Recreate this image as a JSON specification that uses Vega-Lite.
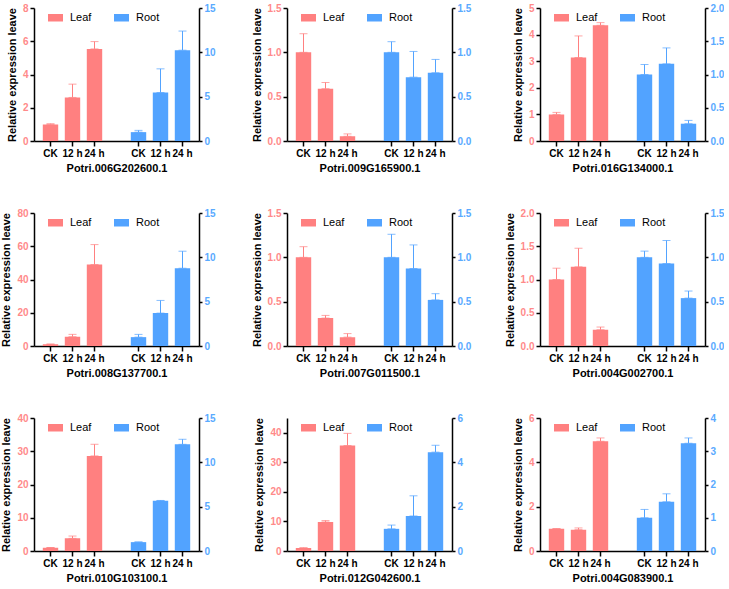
{
"$schema":"https://vega.github.io/schema/vega-lite/v6.json",
"padding":{"left":0,"top":3,"right":0,"bottom":0},
"data":{"values":[
{"gene":"Potri.006G202600.1","tissue":"Leaf","time":"CK","mean":1.0,"upper":1.04},
{"gene":"Potri.006G202600.1","tissue":"Leaf","time":"12","mean":2.62,"upper":3.42},
{"gene":"Potri.006G202600.1","tissue":"Leaf","time":"24","mean":5.54,"upper":5.98},
{"gene":"Potri.006G202600.1","tissue":"Root","time":"CK","mean":1.0,"upper":1.2},
{"gene":"Potri.006G202600.1","tissue":"Root","time":"12","mean":5.47,"upper":8.14},
{"gene":"Potri.006G202600.1","tissue":"Root","time":"24","mean":10.24,"upper":12.4},
{"gene":"Potri.009G165900.1","tissue":"Leaf","time":"CK","mean":1.0,"upper":1.21},
{"gene":"Potri.009G165900.1","tissue":"Leaf","time":"12","mean":0.59,"upper":0.66},
{"gene":"Potri.009G165900.1","tissue":"Leaf","time":"24","mean":0.053,"upper":0.08},
{"gene":"Potri.009G165900.1","tissue":"Root","time":"CK","mean":1.0,"upper":1.12},
{"gene":"Potri.009G165900.1","tissue":"Root","time":"12","mean":0.72,"upper":1.01},
{"gene":"Potri.009G165900.1","tissue":"Root","time":"24","mean":0.77,"upper":0.92},
{"gene":"Potri.016G134000.1","tissue":"Leaf","time":"CK","mean":1.0,"upper":1.075},
{"gene":"Potri.016G134000.1","tissue":"Leaf","time":"12","mean":3.14,"upper":3.95},
{"gene":"Potri.016G134000.1","tissue":"Leaf","time":"24","mean":4.35,"upper":4.45},
{"gene":"Potri.016G134000.1","tissue":"Root","time":"CK","mean":1.0,"upper":1.15},
{"gene":"Potri.016G134000.1","tissue":"Root","time":"12","mean":1.16,"upper":1.4},
{"gene":"Potri.016G134000.1","tissue":"Root","time":"24","mean":0.26,"upper":0.31},
{"gene":"Potri.008G137700.1","tissue":"Leaf","time":"CK","mean":1.0,"upper":1.2},
{"gene":"Potri.008G137700.1","tissue":"Leaf","time":"12","mean":5.6,"upper":7.0},
{"gene":"Potri.008G137700.1","tissue":"Leaf","time":"24","mean":49,"upper":61},
{"gene":"Potri.008G137700.1","tissue":"Root","time":"CK","mean":1.0,"upper":1.31},
{"gene":"Potri.008G137700.1","tissue":"Root","time":"12","mean":3.71,"upper":5.14},
{"gene":"Potri.008G137700.1","tissue":"Root","time":"24","mean":8.77,"upper":10.69},
{"gene":"Potri.007G011500.1","tissue":"Leaf","time":"CK","mean":1.0,"upper":1.12},
{"gene":"Potri.007G011500.1","tissue":"Leaf","time":"12","mean":0.315,"upper":0.345},
{"gene":"Potri.007G011500.1","tissue":"Leaf","time":"24","mean":0.1,"upper":0.14},
{"gene":"Potri.007G011500.1","tissue":"Root","time":"CK","mean":1.0,"upper":1.26},
{"gene":"Potri.007G011500.1","tissue":"Root","time":"12","mean":0.874,"upper":1.14},
{"gene":"Potri.007G011500.1","tissue":"Root","time":"24","mean":0.52,"upper":0.59},
{"gene":"Potri.004G002700.1","tissue":"Leaf","time":"CK","mean":1.0,"upper":1.17},
{"gene":"Potri.004G002700.1","tissue":"Leaf","time":"12","mean":1.19,"upper":1.47},
{"gene":"Potri.004G002700.1","tissue":"Leaf","time":"24","mean":0.245,"upper":0.285},
{"gene":"Potri.004G002700.1","tissue":"Root","time":"CK","mean":1.0,"upper":1.07},
{"gene":"Potri.004G002700.1","tissue":"Root","time":"12","mean":0.93,"upper":1.19},
{"gene":"Potri.004G002700.1","tissue":"Root","time":"24","mean":0.54,"upper":0.62},
{"gene":"Potri.010G103100.1","tissue":"Leaf","time":"CK","mean":1.0,"upper":1.05},
{"gene":"Potri.010G103100.1","tissue":"Leaf","time":"12","mean":3.8,"upper":4.5},
{"gene":"Potri.010G103100.1","tissue":"Leaf","time":"24","mean":28.6,"upper":32.1},
{"gene":"Potri.010G103100.1","tissue":"Root","time":"CK","mean":1.0,"upper":1.02},
{"gene":"Potri.010G103100.1","tissue":"Root","time":"12","mean":5.66,"upper":5.7},
{"gene":"Potri.010G103100.1","tissue":"Root","time":"24","mean":12.03,"upper":12.6},
{"gene":"Potri.012G042600.1","tissue":"Leaf","time":"CK","mean":1.0,"upper":1.1},
{"gene":"Potri.012G042600.1","tissue":"Leaf","time":"12","mean":9.83,"upper":10.3},
{"gene":"Potri.012G042600.1","tissue":"Leaf","time":"24","mean":35.7,"upper":39.8},
{"gene":"Potri.012G042600.1","tissue":"Root","time":"CK","mean":1.0,"upper":1.17},
{"gene":"Potri.012G042600.1","tissue":"Root","time":"12","mean":1.58,"upper":2.49},
{"gene":"Potri.012G042600.1","tissue":"Root","time":"24","mean":4.46,"upper":4.77},
{"gene":"Potri.004G083900.1","tissue":"Leaf","time":"CK","mean":1.0,"upper":1.01},
{"gene":"Potri.004G083900.1","tissue":"Leaf","time":"12","mean":0.96,"upper":1.04},
{"gene":"Potri.004G083900.1","tissue":"Leaf","time":"24","mean":4.95,"upper":5.1},
{"gene":"Potri.004G083900.1","tissue":"Root","time":"CK","mean":1.0,"upper":1.25},
{"gene":"Potri.004G083900.1","tissue":"Root","time":"12","mean":1.48,"upper":1.72},
{"gene":"Potri.004G083900.1","tissue":"Root","time":"24","mean":3.24,"upper":3.4}
]},
"transform":[{"calculate":"datum.tissue + ' ' + datum.time","as":"key"}],
"columns":3,
"spacing":{"row":72,"column":88},
"bounds":"flush",
"align":"all",
"resolve":{"scale":{"color":"independent"},"legend":{"color":"independent"}},
"concat":[
{"width":165,"height":133,"transform":[{"filter":"datum.gene === 'Potri.006G202600.1'"}],
 "encoding":{"x":{"field":"key","type":"nominal","scale":{"domain":["Leaf CK","Leaf 12","Leaf 24","gap","Root CK","Root 12","Root 24"],"paddingInner":0.3,"paddingOuter":0.4},"axis":{"title":"Potri.006G202600.1","labelExpr":"datum.value == 'gap' ? '' : (indexof(datum.value,'CK') >= 0 ? 'CK' : substring(datum.value,5) + ' h')","tickColor":{"condition":{"test":"datum.value === 'gap'","value":"transparent"},"value":"black"}}}},
 "layer":[
  {"transform":[{"filter":"datum.tissue === 'Leaf'"}],
   "encoding":{"y":{"field":"mean","type":"quantitative","title":"Relative expression leave","scale":{"domain":[0,8],"nice":false},"axis":{"orient":"left","values":[0,2,4,6,8],"format":"d","labelOverlap":false,"labelColor":"#FF8A8A"}}},
   "layer":[
   {"mark":{"type":"bar"},"encoding":{"color":{"field":"tissue","type":"nominal","scale":{"domain":["Leaf","Root"],"range":["#FF8080","#52A3FF"]},"legend":{"orient":"none","legendX":14,"legendY":2,"direction":"horizontal","title":null,"symbolType":"M-1,-0.5L1,-0.5L1,0.5L-1,0.5Z","symbolSize":225,"symbolStrokeWidth":0,"labelFontSize":11,"labelOffset":7,"columnPadding":22,"padding":0}}}},
   {"mark":{"type":"errorbar","color":"#FF8080","thickness":1,"ticks":{"size":8,"thickness":1,"color":"#FF8080"}},"encoding":{"y2":{"field":"upper"}}}
  ]},
  {"transform":[{"filter":"datum.tissue === 'Root'"}],
   "encoding":{"y":{"field":"mean","type":"quantitative","title":null,"scale":{"domain":[0,15],"nice":false},"axis":{"orient":"right","values":[0,5,10,15],"format":"d","labelOverlap":false,"labelColor":"#5AAAFF","tickSize":3}}},
   "layer":[
   {"mark":{"type":"bar"},"encoding":{"color":{"field":"tissue","type":"nominal","scale":{"domain":["Leaf","Root"],"range":["#FF8080","#52A3FF"]},"legend":{"orient":"none","legendX":14,"legendY":2,"direction":"horizontal","title":null,"symbolType":"M-1,-0.5L1,-0.5L1,0.5L-1,0.5Z","symbolSize":225,"symbolStrokeWidth":0,"labelFontSize":11,"labelOffset":7,"columnPadding":22,"padding":0}}}},
   {"mark":{"type":"errorbar","color":"#52A3FF","thickness":1,"ticks":{"size":8,"thickness":1,"color":"#52A3FF"}},"encoding":{"y2":{"field":"upper"}}}
  ]}
 ],
 "resolve":{"scale":{"y":"independent"}}},
{"width":165,"height":133,"transform":[{"filter":"datum.gene === 'Potri.009G165900.1'"}],
 "encoding":{"x":{"field":"key","type":"nominal","scale":{"domain":["Leaf CK","Leaf 12","Leaf 24","gap","Root CK","Root 12","Root 24"],"paddingInner":0.3,"paddingOuter":0.4},"axis":{"title":"Potri.009G165900.1","labelExpr":"datum.value == 'gap' ? '' : (indexof(datum.value,'CK') >= 0 ? 'CK' : substring(datum.value,5) + ' h')","tickColor":{"condition":{"test":"datum.value === 'gap'","value":"transparent"},"value":"black"}}}},
 "layer":[
  {"transform":[{"filter":"datum.tissue === 'Leaf'"}],
   "encoding":{"y":{"field":"mean","type":"quantitative","title":"Relative expression leave","scale":{"domain":[0,1.5],"nice":false},"axis":{"orient":"left","values":[0,0.5,1,1.5],"format":".1f","labelOverlap":false,"labelColor":"#FF8A8A"}}},
   "layer":[
   {"mark":{"type":"bar"},"encoding":{"color":{"field":"tissue","type":"nominal","scale":{"domain":["Leaf","Root"],"range":["#FF8080","#52A3FF"]},"legend":{"orient":"none","legendX":14,"legendY":2,"direction":"horizontal","title":null,"symbolType":"M-1,-0.5L1,-0.5L1,0.5L-1,0.5Z","symbolSize":225,"symbolStrokeWidth":0,"labelFontSize":11,"labelOffset":7,"columnPadding":22,"padding":0}}}},
   {"mark":{"type":"errorbar","color":"#FF8080","thickness":1,"ticks":{"size":8,"thickness":1,"color":"#FF8080"}},"encoding":{"y2":{"field":"upper"}}}
  ]},
  {"transform":[{"filter":"datum.tissue === 'Root'"}],
   "encoding":{"y":{"field":"mean","type":"quantitative","title":null,"scale":{"domain":[0,1.5],"nice":false},"axis":{"orient":"right","values":[0,0.5,1,1.5],"format":".1f","labelOverlap":false,"labelColor":"#5AAAFF","tickSize":3}}},
   "layer":[
   {"mark":{"type":"bar"},"encoding":{"color":{"field":"tissue","type":"nominal","scale":{"domain":["Leaf","Root"],"range":["#FF8080","#52A3FF"]},"legend":{"orient":"none","legendX":14,"legendY":2,"direction":"horizontal","title":null,"symbolType":"M-1,-0.5L1,-0.5L1,0.5L-1,0.5Z","symbolSize":225,"symbolStrokeWidth":0,"labelFontSize":11,"labelOffset":7,"columnPadding":22,"padding":0}}}},
   {"mark":{"type":"errorbar","color":"#52A3FF","thickness":1,"ticks":{"size":8,"thickness":1,"color":"#52A3FF"}},"encoding":{"y2":{"field":"upper"}}}
  ]}
 ],
 "resolve":{"scale":{"y":"independent"}}},
{"width":165,"height":133,"transform":[{"filter":"datum.gene === 'Potri.016G134000.1'"}],
 "encoding":{"x":{"field":"key","type":"nominal","scale":{"domain":["Leaf CK","Leaf 12","Leaf 24","gap","Root CK","Root 12","Root 24"],"paddingInner":0.3,"paddingOuter":0.4},"axis":{"title":"Potri.016G134000.1","labelExpr":"datum.value == 'gap' ? '' : (indexof(datum.value,'CK') >= 0 ? 'CK' : substring(datum.value,5) + ' h')","tickColor":{"condition":{"test":"datum.value === 'gap'","value":"transparent"},"value":"black"}}}},
 "layer":[
  {"transform":[{"filter":"datum.tissue === 'Leaf'"}],
   "encoding":{"y":{"field":"mean","type":"quantitative","title":"Relative expression leave","scale":{"domain":[0,5],"nice":false},"axis":{"orient":"left","values":[0,1,2,3,4,5],"format":"d","labelOverlap":false,"labelColor":"#FF8A8A"}}},
   "layer":[
   {"mark":{"type":"bar"},"encoding":{"color":{"field":"tissue","type":"nominal","scale":{"domain":["Leaf","Root"],"range":["#FF8080","#52A3FF"]},"legend":{"orient":"none","legendX":14,"legendY":2,"direction":"horizontal","title":null,"symbolType":"M-1,-0.5L1,-0.5L1,0.5L-1,0.5Z","symbolSize":225,"symbolStrokeWidth":0,"labelFontSize":11,"labelOffset":7,"columnPadding":22,"padding":0}}}},
   {"mark":{"type":"errorbar","color":"#FF8080","thickness":1,"ticks":{"size":8,"thickness":1,"color":"#FF8080"}},"encoding":{"y2":{"field":"upper"}}}
  ]},
  {"transform":[{"filter":"datum.tissue === 'Root'"}],
   "encoding":{"y":{"field":"mean","type":"quantitative","title":null,"scale":{"domain":[0,2],"nice":false},"axis":{"orient":"right","values":[0,0.5,1,1.5,2],"format":".1f","labelOverlap":false,"labelColor":"#5AAAFF","tickSize":3}}},
   "layer":[
   {"mark":{"type":"bar"},"encoding":{"color":{"field":"tissue","type":"nominal","scale":{"domain":["Leaf","Root"],"range":["#FF8080","#52A3FF"]},"legend":{"orient":"none","legendX":14,"legendY":2,"direction":"horizontal","title":null,"symbolType":"M-1,-0.5L1,-0.5L1,0.5L-1,0.5Z","symbolSize":225,"symbolStrokeWidth":0,"labelFontSize":11,"labelOffset":7,"columnPadding":22,"padding":0}}}},
   {"mark":{"type":"errorbar","color":"#52A3FF","thickness":1,"ticks":{"size":8,"thickness":1,"color":"#52A3FF"}},"encoding":{"y2":{"field":"upper"}}}
  ]}
 ],
 "resolve":{"scale":{"y":"independent"}}},
{"width":165,"height":133,"transform":[{"filter":"datum.gene === 'Potri.008G137700.1'"}],
 "encoding":{"x":{"field":"key","type":"nominal","scale":{"domain":["Leaf CK","Leaf 12","Leaf 24","gap","Root CK","Root 12","Root 24"],"paddingInner":0.3,"paddingOuter":0.4},"axis":{"title":"Potri.008G137700.1","labelExpr":"datum.value == 'gap' ? '' : (indexof(datum.value,'CK') >= 0 ? 'CK' : substring(datum.value,5) + ' h')","tickColor":{"condition":{"test":"datum.value === 'gap'","value":"transparent"},"value":"black"}}}},
 "layer":[
  {"transform":[{"filter":"datum.tissue === 'Leaf'"}],
   "encoding":{"y":{"field":"mean","type":"quantitative","title":"Relative expression leave","scale":{"domain":[0,80],"nice":false},"axis":{"orient":"left","values":[0,20,40,60,80],"format":"d","labelOverlap":false,"labelColor":"#FF8A8A"}}},
   "layer":[
   {"mark":{"type":"bar"},"encoding":{"color":{"field":"tissue","type":"nominal","scale":{"domain":["Leaf","Root"],"range":["#FF8080","#52A3FF"]},"legend":{"orient":"none","legendX":14,"legendY":2,"direction":"horizontal","title":null,"symbolType":"M-1,-0.5L1,-0.5L1,0.5L-1,0.5Z","symbolSize":225,"symbolStrokeWidth":0,"labelFontSize":11,"labelOffset":7,"columnPadding":22,"padding":0}}}},
   {"mark":{"type":"errorbar","color":"#FF8080","thickness":1,"ticks":{"size":8,"thickness":1,"color":"#FF8080"}},"encoding":{"y2":{"field":"upper"}}}
  ]},
  {"transform":[{"filter":"datum.tissue === 'Root'"}],
   "encoding":{"y":{"field":"mean","type":"quantitative","title":null,"scale":{"domain":[0,15],"nice":false},"axis":{"orient":"right","values":[0,5,10,15],"format":"d","labelOverlap":false,"labelColor":"#5AAAFF","tickSize":3}}},
   "layer":[
   {"mark":{"type":"bar"},"encoding":{"color":{"field":"tissue","type":"nominal","scale":{"domain":["Leaf","Root"],"range":["#FF8080","#52A3FF"]},"legend":{"orient":"none","legendX":14,"legendY":2,"direction":"horizontal","title":null,"symbolType":"M-1,-0.5L1,-0.5L1,0.5L-1,0.5Z","symbolSize":225,"symbolStrokeWidth":0,"labelFontSize":11,"labelOffset":7,"columnPadding":22,"padding":0}}}},
   {"mark":{"type":"errorbar","color":"#52A3FF","thickness":1,"ticks":{"size":8,"thickness":1,"color":"#52A3FF"}},"encoding":{"y2":{"field":"upper"}}}
  ]}
 ],
 "resolve":{"scale":{"y":"independent"}}},
{"width":165,"height":133,"transform":[{"filter":"datum.gene === 'Potri.007G011500.1'"}],
 "encoding":{"x":{"field":"key","type":"nominal","scale":{"domain":["Leaf CK","Leaf 12","Leaf 24","gap","Root CK","Root 12","Root 24"],"paddingInner":0.3,"paddingOuter":0.4},"axis":{"title":"Potri.007G011500.1","labelExpr":"datum.value == 'gap' ? '' : (indexof(datum.value,'CK') >= 0 ? 'CK' : substring(datum.value,5) + ' h')","tickColor":{"condition":{"test":"datum.value === 'gap'","value":"transparent"},"value":"black"}}}},
 "layer":[
  {"transform":[{"filter":"datum.tissue === 'Leaf'"}],
   "encoding":{"y":{"field":"mean","type":"quantitative","title":"Relative expression leave","scale":{"domain":[0,1.5],"nice":false},"axis":{"orient":"left","values":[0,0.5,1,1.5],"format":".1f","labelOverlap":false,"labelColor":"#FF8A8A"}}},
   "layer":[
   {"mark":{"type":"bar"},"encoding":{"color":{"field":"tissue","type":"nominal","scale":{"domain":["Leaf","Root"],"range":["#FF8080","#52A3FF"]},"legend":{"orient":"none","legendX":14,"legendY":2,"direction":"horizontal","title":null,"symbolType":"M-1,-0.5L1,-0.5L1,0.5L-1,0.5Z","symbolSize":225,"symbolStrokeWidth":0,"labelFontSize":11,"labelOffset":7,"columnPadding":22,"padding":0}}}},
   {"mark":{"type":"errorbar","color":"#FF8080","thickness":1,"ticks":{"size":8,"thickness":1,"color":"#FF8080"}},"encoding":{"y2":{"field":"upper"}}}
  ]},
  {"transform":[{"filter":"datum.tissue === 'Root'"}],
   "encoding":{"y":{"field":"mean","type":"quantitative","title":null,"scale":{"domain":[0,1.5],"nice":false},"axis":{"orient":"right","values":[0,0.5,1,1.5],"format":".1f","labelOverlap":false,"labelColor":"#5AAAFF","tickSize":3}}},
   "layer":[
   {"mark":{"type":"bar"},"encoding":{"color":{"field":"tissue","type":"nominal","scale":{"domain":["Leaf","Root"],"range":["#FF8080","#52A3FF"]},"legend":{"orient":"none","legendX":14,"legendY":2,"direction":"horizontal","title":null,"symbolType":"M-1,-0.5L1,-0.5L1,0.5L-1,0.5Z","symbolSize":225,"symbolStrokeWidth":0,"labelFontSize":11,"labelOffset":7,"columnPadding":22,"padding":0}}}},
   {"mark":{"type":"errorbar","color":"#52A3FF","thickness":1,"ticks":{"size":8,"thickness":1,"color":"#52A3FF"}},"encoding":{"y2":{"field":"upper"}}}
  ]}
 ],
 "resolve":{"scale":{"y":"independent"}}},
{"width":165,"height":133,"transform":[{"filter":"datum.gene === 'Potri.004G002700.1'"}],
 "encoding":{"x":{"field":"key","type":"nominal","scale":{"domain":["Leaf CK","Leaf 12","Leaf 24","gap","Root CK","Root 12","Root 24"],"paddingInner":0.3,"paddingOuter":0.4},"axis":{"title":"Potri.004G002700.1","labelExpr":"datum.value == 'gap' ? '' : (indexof(datum.value,'CK') >= 0 ? 'CK' : substring(datum.value,5) + ' h')","tickColor":{"condition":{"test":"datum.value === 'gap'","value":"transparent"},"value":"black"}}}},
 "layer":[
  {"transform":[{"filter":"datum.tissue === 'Leaf'"}],
   "encoding":{"y":{"field":"mean","type":"quantitative","title":"Relative expression leave","scale":{"domain":[0,2],"nice":false},"axis":{"orient":"left","values":[0,0.5,1,1.5,2],"format":".1f","labelOverlap":false,"labelColor":"#FF8A8A"}}},
   "layer":[
   {"mark":{"type":"bar"},"encoding":{"color":{"field":"tissue","type":"nominal","scale":{"domain":["Leaf","Root"],"range":["#FF8080","#52A3FF"]},"legend":{"orient":"none","legendX":14,"legendY":2,"direction":"horizontal","title":null,"symbolType":"M-1,-0.5L1,-0.5L1,0.5L-1,0.5Z","symbolSize":225,"symbolStrokeWidth":0,"labelFontSize":11,"labelOffset":7,"columnPadding":22,"padding":0}}}},
   {"mark":{"type":"errorbar","color":"#FF8080","thickness":1,"ticks":{"size":8,"thickness":1,"color":"#FF8080"}},"encoding":{"y2":{"field":"upper"}}}
  ]},
  {"transform":[{"filter":"datum.tissue === 'Root'"}],
   "encoding":{"y":{"field":"mean","type":"quantitative","title":null,"scale":{"domain":[0,1.5],"nice":false},"axis":{"orient":"right","values":[0,0.5,1,1.5],"format":".1f","labelOverlap":false,"labelColor":"#5AAAFF","tickSize":3}}},
   "layer":[
   {"mark":{"type":"bar"},"encoding":{"color":{"field":"tissue","type":"nominal","scale":{"domain":["Leaf","Root"],"range":["#FF8080","#52A3FF"]},"legend":{"orient":"none","legendX":14,"legendY":2,"direction":"horizontal","title":null,"symbolType":"M-1,-0.5L1,-0.5L1,0.5L-1,0.5Z","symbolSize":225,"symbolStrokeWidth":0,"labelFontSize":11,"labelOffset":7,"columnPadding":22,"padding":0}}}},
   {"mark":{"type":"errorbar","color":"#52A3FF","thickness":1,"ticks":{"size":8,"thickness":1,"color":"#52A3FF"}},"encoding":{"y2":{"field":"upper"}}}
  ]}
 ],
 "resolve":{"scale":{"y":"independent"}}},
{"width":165,"height":133,"transform":[{"filter":"datum.gene === 'Potri.010G103100.1'"}],
 "encoding":{"x":{"field":"key","type":"nominal","scale":{"domain":["Leaf CK","Leaf 12","Leaf 24","gap","Root CK","Root 12","Root 24"],"paddingInner":0.3,"paddingOuter":0.4},"axis":{"title":"Potri.010G103100.1","labelExpr":"datum.value == 'gap' ? '' : (indexof(datum.value,'CK') >= 0 ? 'CK' : substring(datum.value,5) + ' h')","tickColor":{"condition":{"test":"datum.value === 'gap'","value":"transparent"},"value":"black"}}}},
 "layer":[
  {"transform":[{"filter":"datum.tissue === 'Leaf'"}],
   "encoding":{"y":{"field":"mean","type":"quantitative","title":"Relative expression leave","scale":{"domain":[0,40],"nice":false},"axis":{"orient":"left","values":[0,10,20,30,40],"format":"d","labelOverlap":false,"labelColor":"#FF8A8A"}}},
   "layer":[
   {"mark":{"type":"bar"},"encoding":{"color":{"field":"tissue","type":"nominal","scale":{"domain":["Leaf","Root"],"range":["#FF8080","#52A3FF"]},"legend":{"orient":"none","legendX":14,"legendY":2,"direction":"horizontal","title":null,"symbolType":"M-1,-0.5L1,-0.5L1,0.5L-1,0.5Z","symbolSize":225,"symbolStrokeWidth":0,"labelFontSize":11,"labelOffset":7,"columnPadding":22,"padding":0}}}},
   {"mark":{"type":"errorbar","color":"#FF8080","thickness":1,"ticks":{"size":8,"thickness":1,"color":"#FF8080"}},"encoding":{"y2":{"field":"upper"}}}
  ]},
  {"transform":[{"filter":"datum.tissue === 'Root'"}],
   "encoding":{"y":{"field":"mean","type":"quantitative","title":null,"scale":{"domain":[0,15],"nice":false},"axis":{"orient":"right","values":[0,5,10,15],"format":"d","labelOverlap":false,"labelColor":"#5AAAFF","tickSize":3}}},
   "layer":[
   {"mark":{"type":"bar"},"encoding":{"color":{"field":"tissue","type":"nominal","scale":{"domain":["Leaf","Root"],"range":["#FF8080","#52A3FF"]},"legend":{"orient":"none","legendX":14,"legendY":2,"direction":"horizontal","title":null,"symbolType":"M-1,-0.5L1,-0.5L1,0.5L-1,0.5Z","symbolSize":225,"symbolStrokeWidth":0,"labelFontSize":11,"labelOffset":7,"columnPadding":22,"padding":0}}}},
   {"mark":{"type":"errorbar","color":"#52A3FF","thickness":1,"ticks":{"size":8,"thickness":1,"color":"#52A3FF"}},"encoding":{"y2":{"field":"upper"}}}
  ]}
 ],
 "resolve":{"scale":{"y":"independent"}}},
{"width":165,"height":133,"transform":[{"filter":"datum.gene === 'Potri.012G042600.1'"}],
 "encoding":{"x":{"field":"key","type":"nominal","scale":{"domain":["Leaf CK","Leaf 12","Leaf 24","gap","Root CK","Root 12","Root 24"],"paddingInner":0.3,"paddingOuter":0.4},"axis":{"title":"Potri.012G042600.1","labelExpr":"datum.value == 'gap' ? '' : (indexof(datum.value,'CK') >= 0 ? 'CK' : substring(datum.value,5) + ' h')","tickColor":{"condition":{"test":"datum.value === 'gap'","value":"transparent"},"value":"black"}}}},
 "layer":[
  {"transform":[{"filter":"datum.tissue === 'Leaf'"}],
   "encoding":{"y":{"field":"mean","type":"quantitative","title":"Relative expression leave","scale":{"domain":[0,45],"nice":false},"axis":{"orient":"left","values":[0,10,20,30,40],"format":"d","labelOverlap":false,"labelColor":"#FF8A8A"}}},
   "layer":[
   {"mark":{"type":"bar"},"encoding":{"color":{"field":"tissue","type":"nominal","scale":{"domain":["Leaf","Root"],"range":["#FF8080","#52A3FF"]},"legend":{"orient":"none","legendX":14,"legendY":2,"direction":"horizontal","title":null,"symbolType":"M-1,-0.5L1,-0.5L1,0.5L-1,0.5Z","symbolSize":225,"symbolStrokeWidth":0,"labelFontSize":11,"labelOffset":7,"columnPadding":22,"padding":0}}}},
   {"mark":{"type":"errorbar","color":"#FF8080","thickness":1,"ticks":{"size":8,"thickness":1,"color":"#FF8080"}},"encoding":{"y2":{"field":"upper"}}}
  ]},
  {"transform":[{"filter":"datum.tissue === 'Root'"}],
   "encoding":{"y":{"field":"mean","type":"quantitative","title":null,"scale":{"domain":[0,6],"nice":false},"axis":{"orient":"right","values":[0,2,4,6],"format":"d","labelOverlap":false,"labelColor":"#5AAAFF","tickSize":3}}},
   "layer":[
   {"mark":{"type":"bar"},"encoding":{"color":{"field":"tissue","type":"nominal","scale":{"domain":["Leaf","Root"],"range":["#FF8080","#52A3FF"]},"legend":{"orient":"none","legendX":14,"legendY":2,"direction":"horizontal","title":null,"symbolType":"M-1,-0.5L1,-0.5L1,0.5L-1,0.5Z","symbolSize":225,"symbolStrokeWidth":0,"labelFontSize":11,"labelOffset":7,"columnPadding":22,"padding":0}}}},
   {"mark":{"type":"errorbar","color":"#52A3FF","thickness":1,"ticks":{"size":8,"thickness":1,"color":"#52A3FF"}},"encoding":{"y2":{"field":"upper"}}}
  ]}
 ],
 "resolve":{"scale":{"y":"independent"}}},
{"width":165,"height":133,"transform":[{"filter":"datum.gene === 'Potri.004G083900.1'"}],
 "encoding":{"x":{"field":"key","type":"nominal","scale":{"domain":["Leaf CK","Leaf 12","Leaf 24","gap","Root CK","Root 12","Root 24"],"paddingInner":0.3,"paddingOuter":0.4},"axis":{"title":"Potri.004G083900.1","labelExpr":"datum.value == 'gap' ? '' : (indexof(datum.value,'CK') >= 0 ? 'CK' : substring(datum.value,5) + ' h')","tickColor":{"condition":{"test":"datum.value === 'gap'","value":"transparent"},"value":"black"}}}},
 "layer":[
  {"transform":[{"filter":"datum.tissue === 'Leaf'"}],
   "encoding":{"y":{"field":"mean","type":"quantitative","title":"Relative expression leave","scale":{"domain":[0,6],"nice":false},"axis":{"orient":"left","values":[0,2,4,6],"format":"d","labelOverlap":false,"labelColor":"#FF8A8A"}}},
   "layer":[
   {"mark":{"type":"bar"},"encoding":{"color":{"field":"tissue","type":"nominal","scale":{"domain":["Leaf","Root"],"range":["#FF8080","#52A3FF"]},"legend":{"orient":"none","legendX":14,"legendY":2,"direction":"horizontal","title":null,"symbolType":"M-1,-0.5L1,-0.5L1,0.5L-1,0.5Z","symbolSize":225,"symbolStrokeWidth":0,"labelFontSize":11,"labelOffset":7,"columnPadding":22,"padding":0}}}},
   {"mark":{"type":"errorbar","color":"#FF8080","thickness":1,"ticks":{"size":8,"thickness":1,"color":"#FF8080"}},"encoding":{"y2":{"field":"upper"}}}
  ]},
  {"transform":[{"filter":"datum.tissue === 'Root'"}],
   "encoding":{"y":{"field":"mean","type":"quantitative","title":null,"scale":{"domain":[0,4],"nice":false},"axis":{"orient":"right","values":[0,1,2,3,4],"format":"d","labelOverlap":false,"labelColor":"#5AAAFF","tickSize":3}}},
   "layer":[
   {"mark":{"type":"bar"},"encoding":{"color":{"field":"tissue","type":"nominal","scale":{"domain":["Leaf","Root"],"range":["#FF8080","#52A3FF"]},"legend":{"orient":"none","legendX":14,"legendY":2,"direction":"horizontal","title":null,"symbolType":"M-1,-0.5L1,-0.5L1,0.5L-1,0.5Z","symbolSize":225,"symbolStrokeWidth":0,"labelFontSize":11,"labelOffset":7,"columnPadding":22,"padding":0}}}},
   {"mark":{"type":"errorbar","color":"#52A3FF","thickness":1,"ticks":{"size":8,"thickness":1,"color":"#52A3FF"}},"encoding":{"y2":{"field":"upper"}}}
  ]}
 ],
 "resolve":{"scale":{"y":"independent"}}}
],
"config":{
 "font":"Liberation Sans",
 "view":{"stroke":null},
 "axis":{"grid":false,"labelOverlap":false,"domainColor":"black","domainWidth":1.5,"tickColor":"black","tickWidth":1.5,"tickSize":4,"labelFont":"Liberation Sans","labelFontWeight":"bold","labelFontSize":10,"labelPadding":2,"titleFont":"Liberation Sans","titleFontWeight":"bold","titleFontSize":11,"titleColor":"black","titlePadding":4},
 "axisY":{"titlePadding":5},
 "axisX":{"labelAngle":0,"tickSize":5,"labelColor":"black","labelFontSize":10,"labelOverlap":false,"titlePadding":4},
 "legend":{"labelFont":"Liberation Sans","labelColor":"black"}
}
}
